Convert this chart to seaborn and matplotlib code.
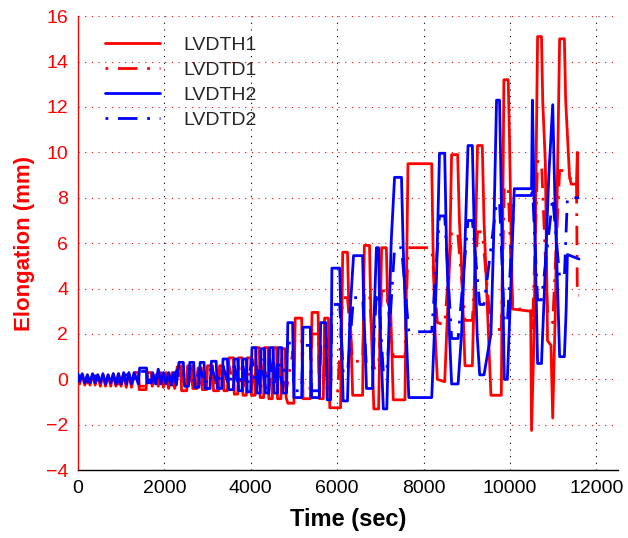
import matplotlib
matplotlib.use("Agg")
import matplotlib.pyplot as plt
import seaborn as sns
import pandas as pd
from matplotlib.ticker import MultipleLocator

# ---------------- data (time [s], elongation [mm]) ----------------
lvdth1 = [(0,0.1),(40,-0.2),(100,0.2),(160,-0.25),(220,0.2),(280,-0.25),(340,0.2),(400,-0.25),(460,0.2),(520,-0.3),
          (580,0.2),(640,-0.3),(700,0.2),(760,-0.3),(820,0.25),(880,-0.3),(940,0.25),(1000,-0.3),(1060,0.25),(1120,-0.35),
          (1180,0.25),(1240,-0.35),
          (1320,0.3),(1400,0.3),(1420,-0.45),(1580,-0.45),(1600,0.3),(1700,0.3),(1720,-0.3),(1800,0.2),(1860,-0.3),(1920,0.3),
          (1980,-0.35),(2040,0.3),(2100,-0.4),(2180,0.3),(2240,-0.4),
          (2300,0.55),(2380,0.6),(2400,-0.5),(2520,-0.5),(2540,0.6),(2640,0.6),(2660,-0.4),(2760,-0.4),(2780,0.5),(2860,0.5),
          (2880,-0.45),(2980,-0.45),(3000,0.6),(3120,0.6),(3140,-0.5),(3260,-0.5),(3280,0.6),(3360,0.6),(3380,-0.5),(3460,-0.5),
          (3500,0.95),(3600,0.95),(3620,-0.65),(3700,-0.65),(3720,0.95),(3800,0.95),(3820,-0.7),(3900,-0.7),(3920,0.95),(4000,0.95),
          (4020,-0.7),(4100,-0.7),
          (4120,1.4),(4200,1.4),(4220,-0.8),(4300,-0.8),(4320,1.4),(4400,1.4),(4420,-0.85),(4500,-0.85),(4520,1.4),(4600,1.4),
          (4620,-0.85),(4700,-0.85),(4720,1.35),(4800,1.35),(4820,-0.8),
          (4860,-1.05),(5000,-1.05),(5030,2.7),(5180,2.7),(5210,-0.85),(5380,-0.85),(5420,2.95),(5560,2.95),(5590,-0.85),(5680,-0.85),
          (5710,2.7),(5800,2.7),(5830,-1.25),(6080,-1.25),
          (6130,5.6),(6240,5.6),(6270,3.3),(6300,3.1),(6360,-0.7),(6590,-0.7),(6630,5.9),(6750,5.9),(6780,3.0),(6850,-1.3),
          (6960,-1.3),(7030,5.8),(7140,5.8),(7170,3.4),(7240,3.0),(7300,-0.9),(7570,-0.9),
          (7640,9.5),(8190,9.5),(8220,5.8),(8270,2.0),(8320,0.0),(8490,-0.1),(8600,5.0),(8650,9.9),(8790,9.9),(8830,7.0),
          (8870,5.5),(8960,0.6),(9130,0.6),(9200,6.0),(9250,10.3),(9360,10.3),(9400,7.0),(9460,4.0),(9560,-0.7),(9800,-0.7),
          (9860,13.2),(9960,13.2),(9990,10.6),(10030,6.0),(10060,3.1),(10480,3.0),(10500,-2.25),(10560,2.0),(10640,15.1),
          (10730,15.1),(10760,12.2),(10820,9.5),(10870,1.7),(10950,1.5),(10990,-1.7),(11050,3.0),(11150,15.0),(11260,15.0),
          (11290,12.3),(11380,8.9),(11420,8.6),(11540,8.6),(11560,10.0),(11570,8.0)]

lvdtd1 = [(0,0.05),(100,0.1),(160,-0.15),(280,-0.15),(340,0.1),(460,0.1),(520,-0.2),(640,-0.15),(700,0.1),(820,0.15),
          (880,-0.2),(1000,-0.2),(1060,0.15),(1180,0.15),(1240,-0.2),
          (1400,0.2),(1420,-0.3),(1580,-0.3),(1600,0.2),(1720,-0.2),(1920,0.2),(2100,-0.25),(2240,-0.25),
          (2400,0.4),(2420,-0.3),(2520,-0.3),(2540,0.4),(2660,-0.25),(2780,0.35),(2880,-0.3),(3000,0.4),(3140,-0.3),(3280,0.4),
          (3380,-0.3),
          (3500,0.6),(3620,-0.4),(3720,0.6),(3820,-0.45),(3920,0.6),(4020,-0.45),
          (4120,0.9),(4220,-0.5),(4320,0.9),(4420,-0.5),(4520,0.9),(4620,-0.5),(4720,0.9),(4820,-0.5),
          (5030,1.8),(5180,1.8),(5210,-0.4),(5380,-0.4),(5420,2.0),(5560,2.0),(5590,-0.4),(5680,-0.4),(5710,1.8),(5800,1.8),
          (5830,-0.6),(6010,-0.6),
          (6130,3.6),(6240,3.6),(6360,0.8),(6590,0.8),(6630,3.8),(6750,3.8),(6850,0.5),(6960,0.5),(7030,3.9),(7140,3.9),
          (7300,1.0),(7570,1.0),
          (7640,5.8),(8190,5.8),(8320,2.5),(8490,2.4),(8650,6.5),(8790,6.5),(8960,2.6),(9130,2.6),(9250,6.5),(9360,6.5),
          (9560,2.2),(9800,2.2),(9870,8.5),(9960,8.5),(10060,3.1),(10480,3.1),(10520,2.0),(10640,9.6),(10730,9.6),(10870,3.0),
          (10990,2.5),(11150,9.2),(11260,9.2),(11420,8.8),(11540,8.8),(11560,3.7),(11600,3.7)]

lvdth2 = [(0,0.25),(40,-0.1),(100,0.25),(160,-0.15),(220,0.2),(280,-0.15),(340,0.25),(400,-0.15),(460,0.2),(520,-0.15),
          (580,0.25),(640,-0.2),(700,0.2),(760,-0.15),(820,0.25),(880,-0.2),(940,0.25),(1000,-0.2),(1060,0.3),(1120,-0.2),
          (1180,0.3),(1240,-0.2),
          (1300,0.3),(1400,-0.2),(1430,0.5),(1590,0.5),(1610,-0.15),(1700,-0.15),(1730,0.3),(1800,-0.2),(1860,0.45),(1920,-0.2),
          (1980,0.3),(2040,-0.2),(2100,0.3),(2160,-0.25),(2220,0.3),(2280,-0.25),
          (2340,0.75),(2440,0.75),(2470,-0.3),(2560,-0.3),(2590,0.75),(2680,0.75),(2710,-0.35),(2800,-0.35),(2830,0.75),
          (2920,0.75),(2950,-0.4),(3060,-0.4),(3090,0.8),(3200,0.8),(3230,-0.4),(3330,-0.4),(3360,0.9),(3460,0.9),(3490,-0.45),
          (3600,-0.45),(3620,0.9),(3700,0.9),(3720,-0.5),(3800,-0.5),(3820,0.9),(3900,0.9),(3920,-0.55),(4000,-0.55),(4030,1.4),
          (4120,1.4),(4140,-0.6),(4220,-0.6),(4240,1.35),(4320,1.35),(4340,-0.6),(4420,-0.6),(4440,1.4),(4520,1.4),(4540,-0.6),
          (4620,-0.6),(4640,1.4),(4720,1.4),(4740,-0.6),(4830,-0.6),
          (4860,2.5),(4970,2.5),(5000,-0.8),(5180,-0.8),(5210,2.3),(5380,2.3),(5410,-0.8),(5590,-0.8),(5620,2.5),(5740,2.5),
          (5770,-0.9),(5850,-0.9),
          (5880,4.9),(6060,4.9),(6100,2.0),(6140,-0.95),(6240,-0.95),(6300,3.0),(6380,5.45),(6590,5.45),(6620,3.0),(6680,-0.4),
          (6820,-0.4),(6860,3.0),(6910,5.8),(6960,5.8),(6990,2.5),(7070,-1.3),(7150,-1.3),(7250,6.0),(7330,8.9),(7490,8.9),
          (7530,5.8),(7580,3.0),(7660,-0.8),(8190,-0.8),
          (8250,2.0),(8300,4.5),(8370,9.96),(8490,9.96),(8530,6.0),(8600,2.0),(8650,-0.2),(8800,-0.2),(8880,2.0),(8960,6.0),
          (9030,10.3),(9130,10.3),(9180,6.0),(9240,2.0),(9300,0.2),(9400,0.2),(9560,2.0),(9620,6.0),(9690,12.3),(9760,12.3),
          (9800,8.0),(9870,0.0),(9940,0.0),(10000,3.0),(10100,8.4),(10500,8.4),(10520,12.3),(10560,8.0),(10640,0.7),(10730,0.7),
          (10800,4.0),(10900,9.0),(10990,12.1),(11040,8.0),(11150,1.0),(11260,1.0),(11300,3.0),(11330,5.5),(11600,5.3)]

lvdtd2 = [(0,0.15),(100,0.15),(160,-0.1),(280,-0.1),(340,0.15),(460,0.15),(520,-0.1),(640,-0.1),(700,0.15),(820,0.15),
          (880,-0.1),(1000,-0.1),(1060,0.2),(1180,0.2),(1240,-0.1),
          (1430,0.35),(1590,0.35),(1610,-0.1),(1860,0.3),(2040,-0.1),(2220,0.2),
          (2340,0.5),(2440,0.5),(2470,-0.2),(2560,-0.2),(2590,0.5),(2710,-0.2),(2830,0.5),(2950,-0.25),(3090,0.55),(3230,-0.25),
          (3360,0.6),(3490,-0.3),
          (3620,0.6),(3720,-0.3),(3820,0.6),(3920,-0.35),(4030,0.9),(4140,-0.4),(4240,0.9),(4340,-0.4),(4440,0.9),(4540,-0.4),
          (4640,0.9),(4740,-0.4),
          (4860,1.6),(4970,1.6),(5000,-0.5),(5180,-0.5),(5210,1.5),(5380,1.5),(5410,-0.5),(5590,-0.5),(5620,1.6),(5740,1.6),
          (5770,-0.5),(5850,-0.5),
          (5880,3.3),(6060,3.3),(6140,0.3),(6240,0.3),(6380,3.6),(6590,3.6),(6680,0.5),(6820,0.5),(6910,3.8),(6960,3.8),
          (7070,0.3),(7150,0.3),(7330,5.8),(7490,5.8),(7660,2.1),(8190,2.1),
          (8370,7.2),(8490,7.2),(8650,1.8),(8800,1.8),(9030,7.0),(9130,7.0),(9300,3.3),(9400,3.3),(9690,7.8),(9760,7.8),
          (9870,2.5),(9940,2.5),(10100,8.1),(10500,8.1),(10520,8.5),(10640,3.5),(10730,3.5),(10990,8.0),(11150,4.5),(11260,4.5),
          (11330,8.0),(11600,8.0)]

series_names = ["LVDTH1", "LVDTD1", "LVDTH2", "LVDTD2"]
series_data = [lvdth1, lvdtd1, lvdth2, lvdtd2]
series_colors = ["#ff0000", "#ff0000", "#0000ff", "#0000ff"]
series_styles = ["-", (0, (1, 3.5, 7, 3.5)), "-", (0, (1, 3.5, 7, 3.5))]

x_ticks = [0, 2000, 4000, 6000, 8000, 10000, 12000]
y_ticks = [-4, -2, 0, 2, 4, 6, 8, 10, 12, 14, 16]

# ---------------- plot ----------------
sns.set_style("white")
plt.rcParams["font.family"] = ["Liberation Sans", "DejaVu Sans"]

fig = plt.figure(figsize=(6.28, 5.38), dpi=100)
ax = fig.add_axes([0.124, 0.126, 0.860, 0.844])

# grid (MATLAB-like dotted)
for yt in y_ticks:
    ax.axhline(yt, color="#ff0000", linestyle=(0, (1, 5)), linewidth=0.8, zorder=0)
for xt in x_ticks[1:]:
    ax.axvline(xt, color="black", linestyle=(0, (1, 5)), linewidth=0.8, zorder=0)

for name, data, col, ls in zip(series_names, series_data, series_colors, series_styles):
    df = pd.DataFrame(data, columns=["Time", "Elongation"])
    sns.lineplot(data=df, x="Time", y="Elongation", ax=ax, sort=False, estimator=None,
                 color=col, linestyle=ls, linewidth=2.0, label=name, zorder=3)

ax.set_xlim(0, 12500)
ax.set_ylim(-4, 16)
ax.set_xticks(x_ticks)
ax.set_yticks(y_ticks)
ax.set_yticklabels([f"{v}".replace("-", "\u2212") for v in y_ticks])
ax.xaxis.set_minor_locator(MultipleLocator(250))

for s in ["top", "right"]:
    ax.spines[s].set_visible(False)
ax.spines["left"].set_color("#ff0000")
ax.spines["bottom"].set_color("black")
ax.spines["left"].set_linewidth(1.0)
ax.spines["bottom"].set_linewidth(1.0)

ax.tick_params(axis="x", which="major", direction="in", length=5, colors="black", labelsize=14, pad=7)
ax.tick_params(axis="x", which="minor", direction="in", length=3, color="#ff0000")
ax.tick_params(axis="y", which="major", direction="in", length=5, colors="#ff0000", labelsize=14, pad=7)

ax.set_xlabel("Time (sec)", fontsize=17, fontweight="bold", color="black", labelpad=8)
ax.set_ylabel("Elongation (mm)", fontsize=16, fontweight="bold", color="#ff0000", labelpad=8)

leg = ax.legend(loc="upper left", bbox_to_anchor=(0.035, 0.972), frameon=False, fontsize=14,
                handlelength=2.85, handletextpad=1.2, labelspacing=0.37, borderaxespad=0.0)

fig.savefig("out.png", dpi=100)
